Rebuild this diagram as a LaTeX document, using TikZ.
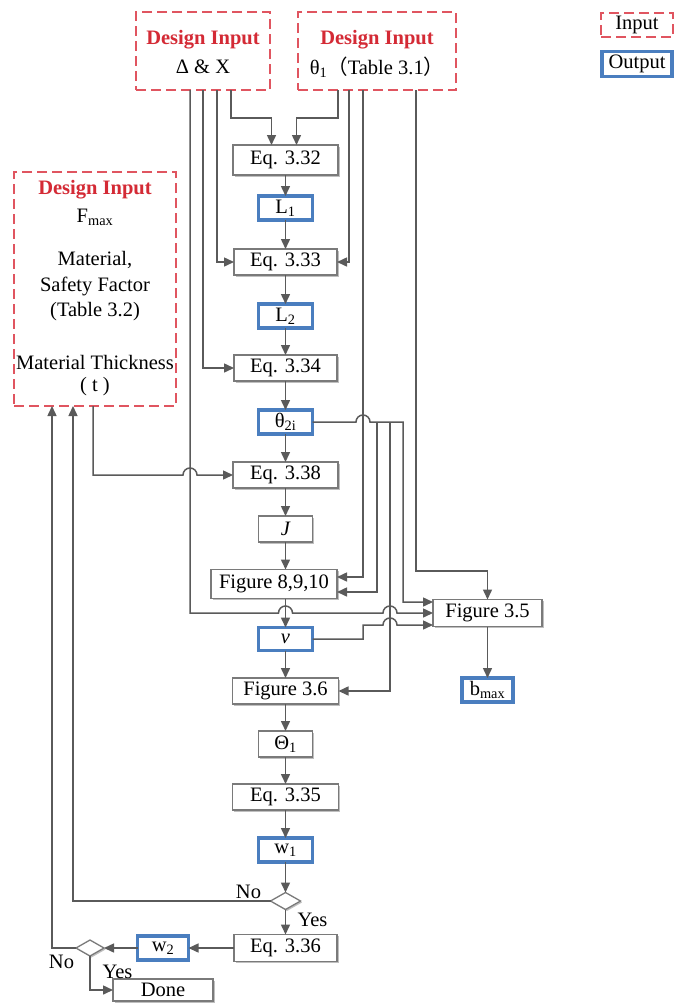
\documentclass[tikz,border=0pt]{standalone}
\usepackage{fontspec}
\setmainfont{Liberation Serif}
\newfontfamily\cjk{Noto Sans CJK SC}
\usetikzlibrary{arrows.meta,shapes.geometric,shadows}
\definecolor{lineg}{HTML}{5A5A5A}
\definecolor{boxg}{HTML}{7A7A7A}
\definecolor{outb}{HTML}{4A7EBF}
\definecolor{inr}{HTML}{E05560}
\definecolor{titr}{HTML}{D42A35}
\begin{document}
\begin{tikzpicture}[x=1pt,y=-1pt,
  font=\fontsize{20.5}{26}\selectfont,
  every node/.style={inner sep=0pt,outer sep=0pt},
  shd/.style={drop shadow={shadow xshift=1.5pt,shadow yshift=-1.5pt,opacity=0.25,fill=black}},
  eqbox/.style={draw=boxg,line width=1.3pt,fill=white,minimum height=26pt,shd},
  outbox/.style={draw=outb,line width=3.4pt,fill=white,minimum width=54pt,minimum height=24pt},
  inbox/.style={draw=inr,line width=1.6pt,dash pattern=on 10pt off 5pt,fill=white},
  dec/.style={diamond,draw=boxg,line width=1.3pt,fill=white,minimum width=30pt,minimum height=17pt,shd},
  ln/.style={draw=lineg,line width=1.5pt},
  arr/.style={ln,-{Triangle[length=10pt,width=9pt]}},
  ttl/.style={text=titr,font=\fontsize{20.5}{26}\selectfont\bfseries},
  lbl/.style={text=black}
]
\fill[white] (0,0) rectangle (676,1004);
\useasboundingbox (0,0) rectangle (676,1004);

% input boxes
\node[inbox,minimum width=134pt,minimum height=78pt] (in1) at (203,51) {};
\node[ttl] (in1t) at (203,40) {Design Input};
\node (in1s) at (203,67) {Δ \& X};
\node[inbox,minimum width=158pt,minimum height=78pt] (in2) at (377,51) {};
\node[ttl] (in2t) at (377,40) {Design Input};
\node (in2s) at (377,67) {θ\textsubscript{1}{\cjk（}Table 3.1{\cjk）}};
\node[inbox,minimum width=162pt,minimum height=234pt] (in3) at (95,289) {};
\node[ttl] (in3t) at (95,190) {Design Input};
\node (in3a) at (95,217) {F\textsubscript{max}};
\node (in3b) at (95,260) {Material,};
\node (in3c) at (95,286) {Safety Factor};
\node (in3d) at (95,312) {(Table 3.2)};
\node (in3e) at (95,362) {Material Thickness};
\node (in3f) at (95,387) {( t )};

% legend
\node[inbox,minimum width=72pt,minimum height=24pt] (legin) at (637,25) {Input};
\node[outbox,minimum width=70pt,minimum height=25pt] (legout) at (637,64) {Output};

% main column
\node[eqbox,minimum width=105pt,minimum height=30pt] (e332) at (285.5,160) {Eq. 3.32};
\node[outbox] (L1) at (285.5,208) {L\textsubscript{1}};
\node[eqbox,minimum width=103pt] (e333) at (285.5,262) {Eq. 3.33};
\node[outbox] (L2) at (285.5,316) {L\textsubscript{2}};
\node[eqbox,minimum width=103pt] (e334) at (285.5,368) {Eq. 3.34};
\node[outbox] (t2i) at (285.5,422) {θ\textsubscript{2i}};
\node[eqbox,minimum width=105pt] (e338) at (285.5,475) {Eq. 3.38};
\node[eqbox,minimum width=54pt] (J) at (285.5,529) {\itshape J};
\node[eqbox,minimum width=126pt,minimum height=29pt] (f8910) at (274,584) {Figure 8,9,10};
\node[outbox,minimum height=23pt] (v) at (285.5,639) {\itshape v};
\node[eqbox,minimum width=106pt] (f36) at (285.5,691) {Figure 3.6};
\node[eqbox,minimum width=54pt] (Th1) at (285.5,744) {Θ\textsubscript{1}};
\node[eqbox,minimum width=106pt] (e335) at (285.5,797) {Eq. 3.35};
\node[outbox] (w1) at (285.5,850) {w\textsubscript{1}};
\node[dec] (d1) at (285.5,901) {};
\node[eqbox,minimum width=103pt,minimum height=27pt] (e336) at (285.5,948) {Eq. 3.36};
\node[outbox,minimum width=51pt] (w2) at (163,948) {w\textsubscript{2}};
\node[dec,minimum width=28pt,minimum height=16pt] (d2) at (90,948) {};
\node[eqbox,minimum width=100pt,minimum height=22pt] (done) at (163,990) {Done};
\node[eqbox,minimum width=109pt,minimum height=27pt] (f35) at (487.5,613) {Figure 3.5};
\node[outbox,minimum width=51pt] (bmax) at (487.5,690) {b\textsubscript{max}};

% labels
\node[lbl] (no1) at (248.5,892) {No};
\node[lbl] (yes1) at (312.5,920) {Yes};
\node[lbl] (no2) at (61.5,962) {No};
\node[lbl] (yes2) at (117.5,972) {Yes};

% main column arrows
\draw[arr] (e332) -- (L1);
\draw[arr] (L1) -- (e333);
\draw[arr] (e333) -- (L2);
\draw[arr] (L2) -- (e334);
\draw[arr] (e334) -- (t2i);
\draw[arr] (t2i) -- (e338);
\draw[arr] (e338) -- (J);
\draw[arr] (J.south) -- (J.south |- f8910.north);
\draw[arr] (J.south |- f8910.south) -- (v.north);
\draw[arr] (v) -- (f36);
\draw[arr] (f36) -- (Th1);
\draw[arr] (Th1) -- (e335);
\draw[arr] (e335) -- (w1);
\draw[arr] (w1) -- (d1);
\draw[arr] (d1) -- (e336);
\draw[arr] (e336) -- (w2);
\draw[arr] (w2) -- (d2);
\draw[arr] (d2.south) |- (done.west);
\draw[arr] (f35) -- (bmax);

% from input 1
\draw[arr] ([xshift=28pt]in1.south) -- ++(0,28) -| ([xshift=-14pt]e332.north);
\draw[arr] ([xshift=14pt]in1.south) |- (e333.west);
\draw[arr] (in1.south) |- (e334.west);
\draw[arr] ([xshift=-13pt]in1.south) -- (190,613) -- (278.5,613)
  arc[start angle=180,end angle=0,radius=7pt] -- (383,613)
  arc[start angle=180,end angle=0,radius=7pt] -- (f35.west);

% from input 2
\draw[arr] ([xshift=-39pt]in2.south) -- ++(0,28) -| ([xshift=11pt]e332.north);
\draw[arr] ([xshift=-28pt]in2.south) |- (e333.east);
\draw[arr] ([xshift=-14pt]in2.south) |- ([yshift=7pt]f8910.east);
\draw[arr] ([xshift=39pt]in2.south) |- (f35.north |- 0,571) -- (f35.north);

% from theta2i
\coordinate (j1) at (377,422);
\coordinate (j2) at (390,422);
\draw[arr] (t2i.east) -- (356,422) arc[start angle=180,end angle=0,radius=7pt]
  -- (403,422) |- ([yshift=11pt]f35.west);
\draw[arr] (j1) |- ([yshift=-8pt]f8910.east);
\draw[arr] (j2) |- (f36.east);

% from v
\draw[arr] (v.east) -- (363,639) -- (363,625) -- (383,625)
  arc[start angle=180,end angle=0,radius=7pt] -- ([yshift=-12pt]f35.west);

% from input 3
\draw[arr] ([xshift=-2pt]in3.south) -- (93,475) -- (183,475)
  arc[start angle=180,end angle=0,radius=7pt] -- (e338.west);

% loops back
\draw[arr] (d1.west) -| ([xshift=-22pt]in3.south);
\draw[arr] (d2.west) -| ([xshift=-43pt]in3.south);
\end{tikzpicture}
\end{document}
